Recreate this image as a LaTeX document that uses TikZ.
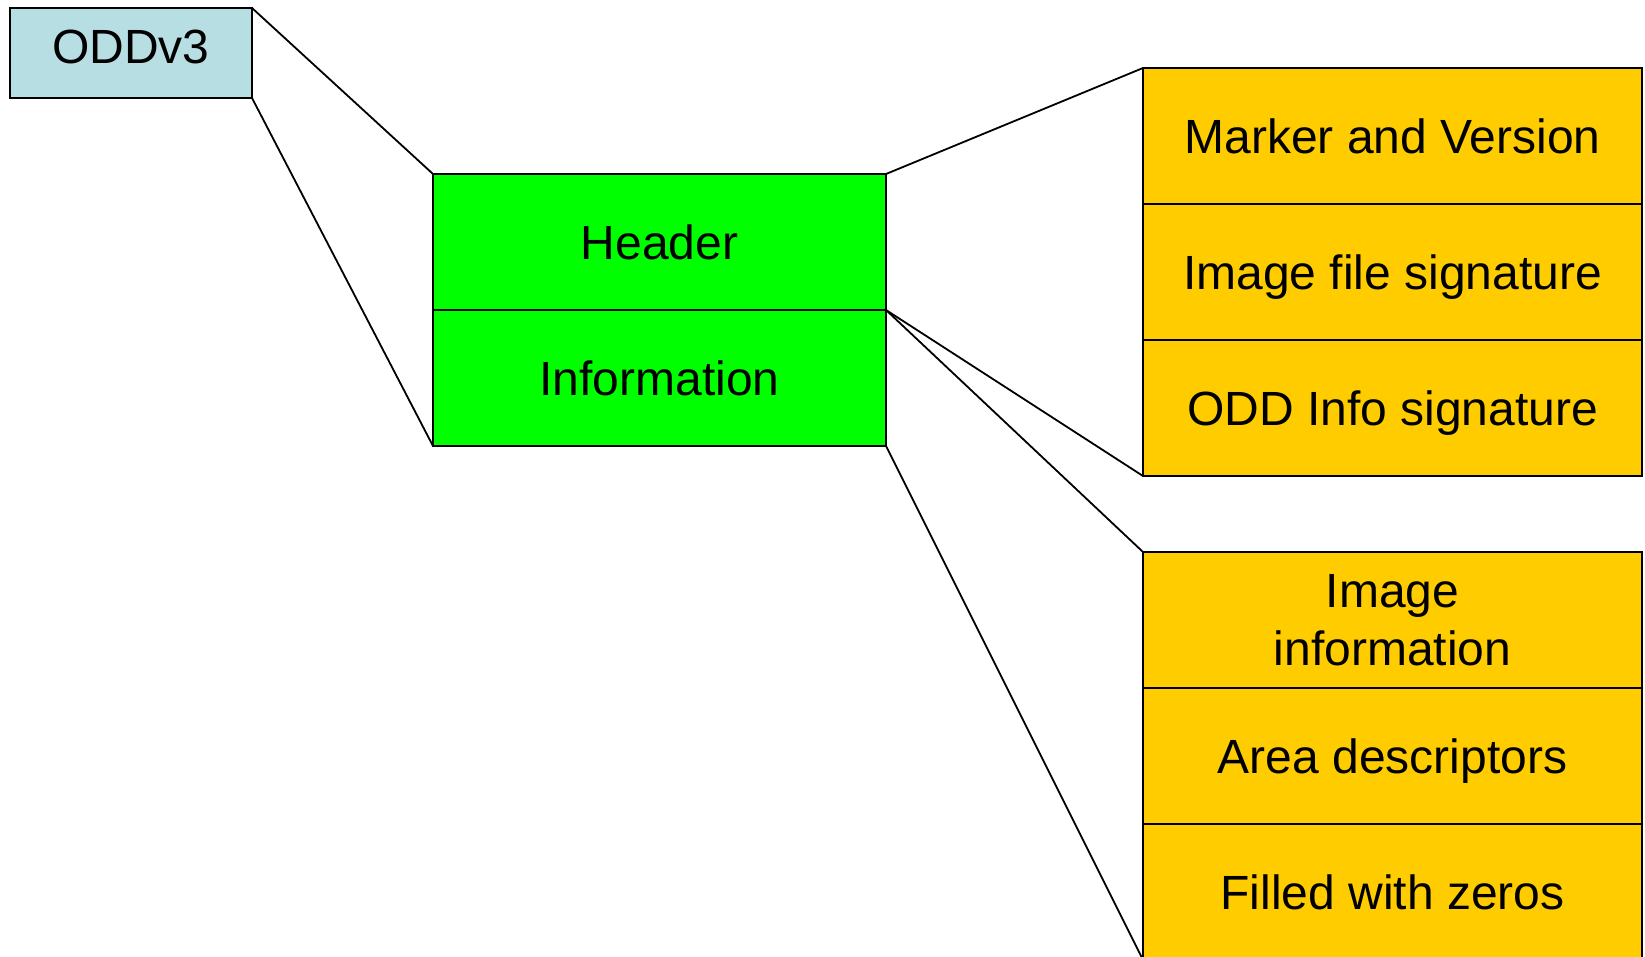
\documentclass[tikz,border=0pt]{standalone}
\usepackage{fontspec}
\setmainfont{Liberation Sans}
\usetikzlibrary{positioning}
\definecolor{oddBlue}{RGB}{183,222,226}
\definecolor{hdrGreen}{RGB}{0,255,0}
\definecolor{fieldYellow}{RGB}{255,204,0}
\begin{document}
\begin{tikzpicture}[x=1pt, y=-1pt, line width=1.8pt,
    cell/.style={draw, rectangle, inner sep=0pt, outer sep=0pt, align=center, minimum height=136pt,
                 text depth=0pt, font=\fontsize{48}{58}\selectfont},
    green cell/.style={cell, fill=hdrGreen, minimum width=453pt},
    field cell/.style={cell, fill=fieldYellow, minimum width=499pt}]
    \useasboundingbox (0,0) rectangle (1645,957);
    % container
    \node[cell, fill=oddBlue, minimum width=242pt, minimum height=90pt, text depth=12pt, anchor=north west] (odd) at (10,8) {ODDv3};
    % header + information
    \node[green cell, anchor=north west] (hdr) at (433,174) {Header};
    \node[green cell, below=0pt of hdr] (inf) {Information};
    % header fields
    \node[field cell, anchor=north west] (mv) at (1143,68) {Marker and Version};
    \node[field cell, below=0pt of mv] (ifs) {Image file signature};
    \node[field cell, below=0pt of ifs] (ois) {ODD Info signature};
    % information fields
    \node[field cell, anchor=north west] (imi) at (1143,552) {Image\\information};
    \node[field cell, below=0pt of imi] (ad) {Area descriptors};
    \node[field cell, below=0pt of ad] (fz) {Filled with zeros};
    % zoom lines
    \foreach \A/\B in {odd.north east/hdr.north west, odd.south east/inf.south west,
                       hdr.north east/mv.north west, inf.north east/ois.south west,
                       inf.north east/imi.north west, inf.south east/fz.south west}
        {
        \draw (\A) -- (\B);
        }
\end{tikzpicture}
\end{document}
